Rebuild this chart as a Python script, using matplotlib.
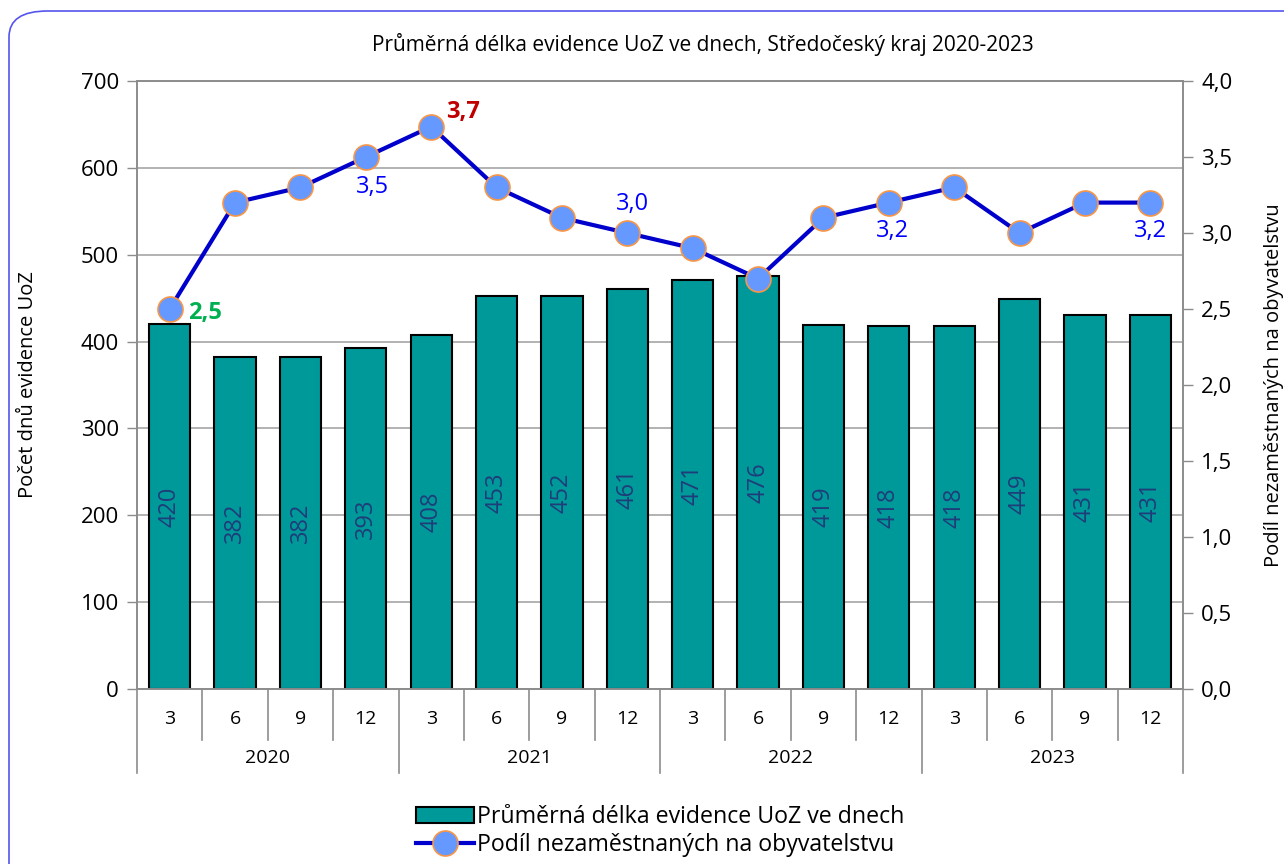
"""
Průměrná délka evidence UoZ ve dnech, Středočeský kraj 2020-2023
bars = avg. days in register, line = unemployment share (right axis)
"""

import matplotlib
matplotlib.use("Agg")
import matplotlib.pyplot as plt
from matplotlib.patches import FancyBboxPatch
from matplotlib.ticker import FuncFormatter, MultipleLocator
import matplotlib.transforms as mtrans

# ── data ──────────────────────────────────────────────────────────────────
YEARS = ["2020", "2021", "2022", "2023"]
MONTHS = ["3", "6", "9", "12"]
DAYS = [420, 382, 382, 393, 408, 453, 452, 461, 471, 476, 419, 418, 418, 449, 431, 431]
SHARE = [2.5, 3.2, 3.3, 3.5, 3.7, 3.3, 3.1, 3.0, 2.9, 2.7, 3.1, 3.2, 3.3, 3.0, 3.2, 3.2]
# point index -> (colour, bold, offset in px, alignment)
CALLOUTS = {
    0: ("#00B050", True, (18, -4), "left"),
    3: ("#0000FF", False, (7, -30), "center"),
    4: ("#C00000", True, (15, 15), "left"),
    7: ("#0000FF", False, (5, 29), "center"),
    11: ("#0000FF", False, (4, -28), "center"),
    15: ("#0000FF", False, (0, -28), "center"),
}

TITLE = "Průměrná délka evidence UoZ ve dnech, Středočeský kraj 2020-2023"
YLAB_L = "Počet dnů evidence UoZ"
YLAB_R = "Podíl nezaměstnaných na obyvatelstvu"
LEG_BAR = "Průměrná délka evidence UoZ ve dnech"
LEG_LINE = "Podíl nezaměstnaných na obyvatelstvu"

BAR_C = "#009999"
LINE_C = "#0000CC"
MARK_C = "#6699FF"
MARK_EDGE = "#F79646"
LBL_C = "#1F3D7A"
AX_C = "#8C8C8C"

plt.rcParams["font.family"] = ["Open Sans", "DejaVu Sans"]


def comma(v, _):
    return f"{v:.1f}".replace(".", ",")


def main():
    W, H = 1284, 864
    fig = plt.figure(figsize=(W / 100, H / 100), dpi=100)
    L, R, T, B = 137, 1183, 81, 689
    ax = fig.add_axes([L / W, 1 - B / H, (R - L) / W, (B - T) / H])
    n = len(DAYS)
    xs = list(range(n))

    # ── bars ─────────────────────────────────────────────────────────────
    ax.bar(xs, DAYS, width=0.63, color=BAR_C, edgecolor="black", linewidth=1.5,
           zorder=2, label=LEG_BAR)
    for x, v in zip(xs, DAYS):
        ax.text(x, v / 2, str(v), rotation=90, ha="center", va="center",
                fontsize=17, color=LBL_C, zorder=3)
    ax.set_xlim(-0.5, n - 0.5)
    ax.set_ylim(0, 700)
    ax.yaxis.set_major_locator(MultipleLocator(100))
    ax.grid(axis="y", color="#A6A6A6", linewidth=1.2, zorder=0)
    ax.set_axisbelow(True)
    ax.set_xticks([])
    ax.tick_params(axis="y", direction="out", length=7, width=1, color=AX_C,
                   labelsize=16, pad=6)
    for s in ax.spines.values():
        s.set_color(AX_C)
        s.set_linewidth(1.2)
    ax.set_ylabel(YLAB_L, fontsize=14.5)
    ax.yaxis.set_label_coords(-(L - 38) / (R - L), 0.5)

    # ── two-level category axis ──────────────────────────────────────────
    tr = mtrans.blended_transform_factory(ax.transData, ax.transAxes)
    ah = B - T
    y_mon = -(740 - B) / ah
    y_yr = -(773 - B) / ah
    for i in range(n + 1):
        edge = i % 4 == 0
        ax.plot([i - 0.5, i - 0.5], [0, y_yr if edge else y_mon], transform=tr,
                color=AX_C, linewidth=1.2, clip_on=False)
    for i in range(n):
        ax.text(i, -(719 - B) / ah, MONTHS[i % 4], transform=tr, ha="center",
                va="center", fontsize=14)
    for g, yr in enumerate(YEARS):
        ax.text(g * 4 + 1.5, -(758 - B) / ah, yr, transform=tr, ha="center",
                va="center", fontsize=14)

    # ── line on right axis ───────────────────────────────────────────────
    ax2 = ax.twinx()
    ax2.plot(xs, SHARE, color=LINE_C, linewidth=3, marker="o", markersize=18,
             markerfacecolor=MARK_C, markeredgecolor=MARK_EDGE, markeredgewidth=1.2,
             zorder=4, label=LEG_LINE)
    ax2.set_ylim(0, 4)
    ax2.yaxis.set_major_locator(MultipleLocator(0.5))
    ax2.yaxis.set_major_formatter(FuncFormatter(comma))
    ax2.tick_params(axis="y", direction="out", length=7, width=1, color=AX_C,
                    labelsize=16, pad=6)
    for s in ax2.spines.values():
        s.set_color(AX_C)
        s.set_linewidth(1.2)
    ax2.set_ylabel(YLAB_R, fontsize=14.5, rotation=90)
    ax2.yaxis.set_label_coords(1 + (1264 - R) / (R - L), 0.5)

    for i, (c, bold, (dx, dy), ha) in CALLOUTS.items():
        ax2.annotate(comma(SHARE[i], None), (i, SHARE[i]), xytext=(dx * 0.72, dy * 0.72),
                     textcoords="offset points", ha=ha, va="center", fontsize=17,
                     color=c, fontweight="bold" if bold else "normal", zorder=5)

    # ── title, legend, frame ────────────────────────────────────────────
    fig.text((370 + 1035) / 2 / W, 1 - 44 / H, TITLE, ha="center", va="center",
             fontsize=15)
    h1, l1 = ax.get_legend_handles_labels()
    h2, l2 = ax2.get_legend_handles_labels()
    fig.legend(h1 + h2, l1 + l2, loc="center", bbox_to_anchor=(660 / W, 1 - 831 / H),
               frameon=False, fontsize=16.7, handlelength=2.5, handletextpad=0.15,
               labelspacing=0.15, borderpad=0)

    frame = FancyBboxPatch((9 / W, -0.2), 1.2, 1 - 11 / H + 0.2,
                           boxstyle="round,pad=0,rounding_size=0.03",
                           transform=fig.transFigure, facecolor="none",
                           edgecolor="#5555EE", linewidth=1.2, clip_on=False)
    fig.patches.append(frame)

    fig.savefig("out.png", dpi=100)


if __name__ == "__main__":
    main()
